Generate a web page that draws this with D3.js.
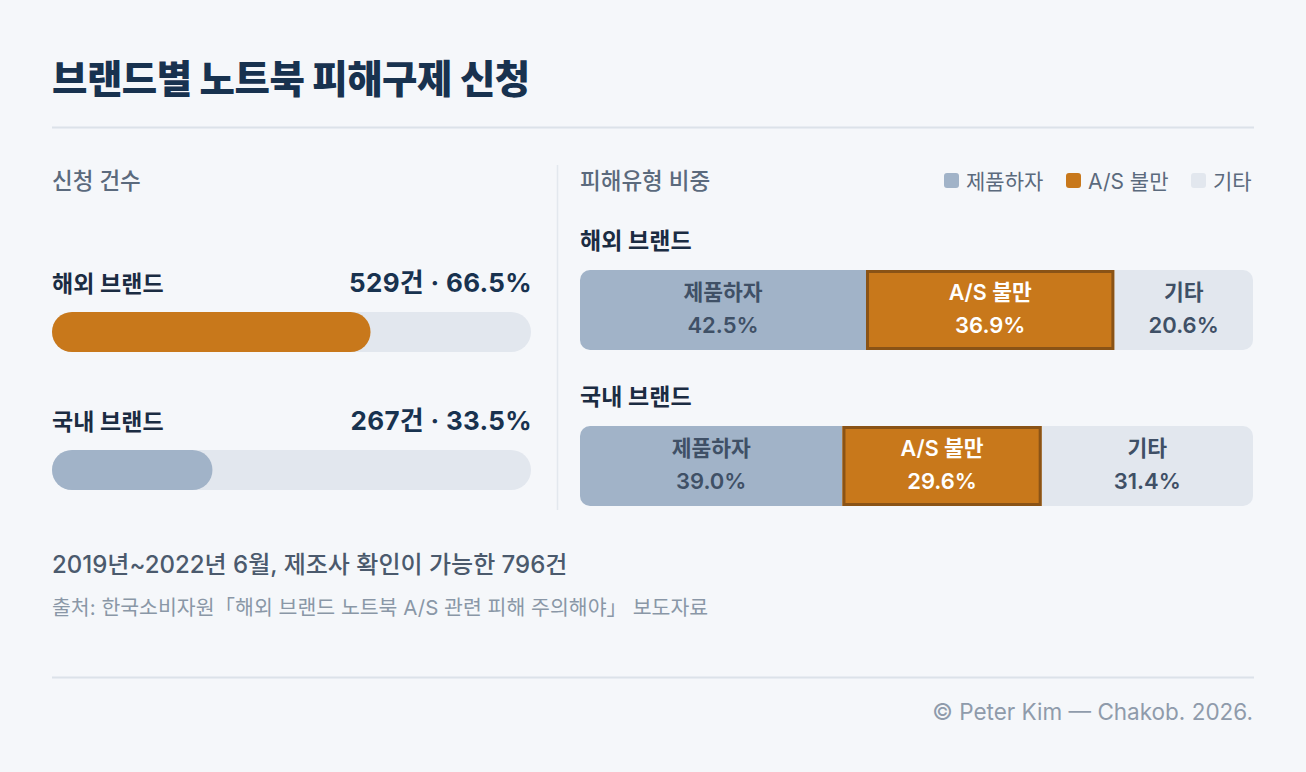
<!DOCTYPE html>
<html><head><meta charset="utf-8">
<script src="https://cdn.jsdelivr.net/npm/d3@7"></script>
<style>
html,body{margin:0;padding:0;background:#f5f7fa;}
svg{display:block;font-family:Inter,"Noto Sans CJK KR",sans-serif;}
</style></head><body>
<svg id="chart" width="1306" height="772"></svg>
<script>
const title = "브랜드별 노트북 피해구제 신청";
const brands = ["해외 브랜드", "국내 브랜드"];
const counts = [529, 267];
const shares = [66.5, 33.5];
const types = ["제품하자", "A/S 불만", "기타"];
const overseasPct = [42.5, 36.9, 20.6];
const domesticPct = [39.0, 29.6, 31.4];
const note = "2019년~2022년 6월, 제조사 확인이 가능한 796건";
const source = "출처: 한국소비자원「해외 브랜드 노트북 A/S 관련 피해 주의해야」 보도자료";
const credit = "© Peter Kim — Chakob. 2026.";

const typeColors = ["#a1b3c8", "#c8781b", "#e2e7ee"];
const typeText = ["#3f5066", "#ffffff", "#3f5066"];
const brandColors = ["#c8781b", "#a1b3c8"];

const svg = d3.select("#chart");
svg.append("rect").attr("width",1306).attr("height",772).attr("fill","#f5f7fa");

svg.append("text").attr("x",52).attr("y",93).text(title)
  .attr("font-size",38.5).attr("font-weight",800).attr("fill","#18324f").attr("letter-spacing",-0.5);
svg.append("line").attr("x1",52).attr("x2",1254).attr("y1",127.5).attr("y2",127.5)
  .attr("stroke","#dce2e9").attr("stroke-width",2);

// Left panel
svg.append("text").attr("x",52).attr("y",189).text("신청 건수")
  .attr("font-size",22.5).attr("font-weight",500).attr("fill","#5b6a7d");
svg.append("line").attr("x1",557.5).attr("x2",557.5).attr("y1",165).attr("y2",510)
  .attr("stroke","#e3e8ee").attr("stroke-width",1.5);

const xL = d3.scaleLinear().domain([0,100]).range([52,531]);
const yL = d3.scaleBand().domain(brands).range([252,528]).paddingInner(0);
const rowsL = svg.append("g").selectAll("g").data(brands).join("g")
  .attr("transform", d => `translate(0,${yL(d)})`);
rowsL.append("text").attr("x",52).attr("y",40).text(d=>d)
  .attr("font-size",23).attr("font-weight",600).attr("fill","#1b2c42");
rowsL.append("text").attr("x",532).attr("y",40).attr("text-anchor","end")
  .text((d,i)=>`${counts[i]}건 · ${shares[i].toFixed(1)}%`)
  .attr("font-size",26).attr("font-weight",700).attr("fill","#18324f").attr("letter-spacing",0.3);
rowsL.append("rect").attr("x",xL(0)).attr("y",60).attr("height",40)
  .attr("width",xL(100)-xL(0)).attr("rx",20).attr("fill","#e2e7ee");
rowsL.append("rect").attr("x",xL(0)).attr("y",60).attr("height",40)
  .attr("width",(d,i)=>xL(shares[i])-xL(0)).attr("rx",20).attr("fill",(d,i)=>brandColors[i]);

// Right panel
svg.append("text").attr("x",580).attr("y",189).text("피해유형 비중")
  .attr("font-size",22.5).attr("font-weight",500).attr("fill","#5b6a7d");

const legendX = [944, 1066, 1191];
const lg = svg.append("g").selectAll("g").data(types).join("g")
  .attr("transform",(d,i)=>`translate(${legendX[i]},173)`);
lg.append("rect").attr("width",15).attr("height",15).attr("rx",3).attr("fill",(d,i)=>typeColors[i]);
lg.append("text").attr("x",22).attr("y",16).text(d=>d)
  .attr("font-size",21).attr("fill","#5b6a7d");

const xR = d3.scaleLinear().domain([0,100]).range([580,1253]);
const stackData = [overseasPct, domesticPct];
const rowY = [270, 426];
const clip = svg.append("defs");
stackData.forEach((vals,r)=>{
  clip.append("clipPath").attr("id","c"+r).append("rect")
    .attr("x",xR(0)).attr("y",rowY[r]).attr("width",xR(100)-xR(0)).attr("height",80).attr("rx",10);
});
const rowsR = svg.append("g").selectAll("g").data(brands).join("g");
rowsR.append("text").attr("x",580).attr("y",(d,i)=>rowY[i]-21).text(d=>d)
  .attr("font-size",23).attr("font-weight",600).attr("fill","#1b2c42");
rowsR.each(function(d,r){
  const vals = stackData[r];
  let acc = 0;
  const segs = vals.map((v,i)=>{const s={i,v,x0:acc,x1:acc+v}; acc+=v; return s;});
  const g = d3.select(this).append("g").attr("clip-path",`url(#c${r})`);
  g.selectAll("rect").data(segs).join("rect")
    .attr("x",s=>xR(s.x0)).attr("y",rowY[r]).attr("height",80)
    .attr("width",s=>xR(s.x1)-xR(s.x0)).attr("fill",s=>typeColors[s.i]);
  const as = segs[1];
  d3.select(this).append("rect").attr("x",xR(as.x0)+1.5).attr("y",rowY[r]+1.5)
    .attr("width",xR(as.x1)-xR(as.x0)-3).attr("height",77)
    .attr("fill","none").attr("stroke","#8a5316").attr("stroke-width",3);
  const lab = d3.select(this).selectAll("g.lab").data(segs).join("g")
    .attr("transform",s=>`translate(${(xR(s.x0)+xR(s.x1))/2},${rowY[r]})`);
  lab.append("text").attr("y",30).attr("text-anchor","middle").text(s=>types[s.i])
    .attr("font-size",21.5).attr("font-weight",600).attr("fill",s=>typeText[s.i]);
  lab.append("text").attr("y",63).attr("text-anchor","middle").text(s=>s.v.toFixed(1)+"%")
    .attr("font-size",22).attr("font-weight",600).attr("fill",s=>typeText[s.i]);
});

svg.append("text").attr("x",52).attr("y",573).text(note)
  .attr("font-size",24).attr("font-weight",500).attr("fill","#4b5a6d");
svg.append("text").attr("x",52).attr("y",615).text(source)
  .attr("font-size",20.5).attr("fill","#8a97a7");
svg.append("line").attr("x1",52).attr("x2",1254).attr("y1",677.5).attr("y2",677.5)
  .attr("stroke","#dce2e9").attr("stroke-width",2);
svg.append("text").attr("x",1253).attr("y",720).attr("text-anchor","end").text(credit)
  .attr("font-size",22.5).attr("fill","#8f9bab");
</script>
</body></html>
